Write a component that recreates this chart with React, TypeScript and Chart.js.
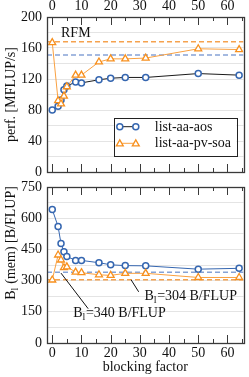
import React, { useEffect, useRef } from "react";
import { Chart, registerables } from "chart.js";

Chart.register(...registerables);

// ---------- data ----------
const blockingFactors = [0, 2, 3, 4, 5, 8, 10, 16, 20, 25, 32, 50, 64];
const perfAos = [80, 85, 93, 106, 111, 116, 115, 119, 121, 122, 122, 127, 125];
const perfPvSoa = [167, 92, 88, 98, 110, 125, 125, 142, 146, 146, 147, 159, 158];
const bAos = [642, 560, 478, 439, 416, 397, 397, 386, 376, 372, 371, 355, 359];
const bPvSoa = [303, 423, 399, 362, 366, 341, 338, 328, 325, 335, 335, 315, 315];
const perfLimitSoa = 168;
const perfLimitAos = 151;
const bLimitAos = 340;
const bLimitSoa = 304;
const xRange = [-1.8, 65.5];
const xTickValues = [0, 10, 20, 30, 40, 50, 60];
const xMinorTickValues = [5, 15, 25, 35, 45, 55, 65];
const perfTickValues = [0, 40, 80, 120, 160, 200];
const perfGridValues = [0, 20, 40, 60, 80, 100, 120, 140, 160, 180, 200];
const bTickValues = [0, 150, 300, 450, 600, 750];
const bGridValues = [0, 75, 150, 225, 300, 375, 450, 525, 600, 675, 750];
const seriesNames = ["list-aa-aos", "list-aa-pv-soa"];
const annotRFM = { x: 3, y: 179, text: "RFM" };
const annot304 = { from: [27, 304], to: [29.6, 246], textAt: [31.6, 222], value: "=304 B/FLUP" };
const annot340 = { from: [3, 336], to: [12.3, 165], textAt: [7.2, 143], value: "=340 B/FLUP" };

// ---------- style ----------
const FONT = "'Liberation Serif', 'Times New Roman', serif";
const BLUE = "#3566b0";
const ORANGE = "#f7901e";
const ORANGE_LINE = "#f9a040";
const BLUE_DASH = "#86a3d6";
const ORANGE_DASH = "#f5a24e";
const GRID = "#e4e4e4";
const FRAME = "#3a3a3a";

const pts = (ys: number[]) => blockingFactors.map((x, i) => ({ x, y: ys[i] }));
const hline = (y: number) => [{ x: xRange[0], y }, { x: xRange[1], y }];

function drawFrame(chart: any) {
  const { ctx, chartArea: a, scales } = chart;
  const x = scales.x;
  ctx.save();
  ctx.strokeStyle = FRAME;
  ctx.lineWidth = 1;
  const tick = (v: number, len: number) => {
    const px = Math.round(x.getPixelForValue(v)) + 0.5;
    ctx.beginPath();
    ctx.moveTo(px, a.top);
    ctx.lineTo(px, a.top + len);
    ctx.moveTo(px, a.bottom);
    ctx.lineTo(px, a.bottom - len);
    ctx.stroke();
  };
  xTickValues.forEach((v) => tick(v, 8));
  xMinorTickValues.forEach((v) => tick(v, 4));
  ctx.lineWidth = 1.3;
  ctx.strokeRect(Math.round(a.left) + 0.5, Math.round(a.top) + 0.5, Math.round(a.right - a.left), Math.round(a.bottom - a.top));
  ctx.restore();
}

function drawTriangle(ctx: CanvasRenderingContext2D, x: number, y: number, r: number) {
  ctx.beginPath();
  ctx.moveTo(x, y - r);
  ctx.lineTo(x + 0.866 * r, y + 0.5 * r);
  ctx.lineTo(x - 0.866 * r, y + 0.5 * r);
  ctx.closePath();
}

// draws text with "B" + subscript "l" + rest, left aligned at (x, y) middle baseline
function drawSubText(ctx: CanvasRenderingContext2D, rest: string, x: number, y: number) {
  ctx.textBaseline = "middle";
  ctx.textAlign = "left";
  ctx.font = `14px ${FONT}`;
  ctx.fillText("B", x, y);
  let w = ctx.measureText("B").width;
  ctx.font = `10px ${FONT}`;
  ctx.fillText("l", x + w, y + 4);
  w += ctx.measureText("l").width + 0.5;
  ctx.font = `14px ${FONT}`;
  ctx.fillText(rest, x + w, y);
  w += ctx.measureText(rest).width;
  return w;
}

function measureSubText(ctx: CanvasRenderingContext2D, rest: string) {
  ctx.font = `14px ${FONT}`;
  let w = ctx.measureText("B").width + ctx.measureText(rest).width;
  ctx.font = `10px ${FONT}`;
  w += ctx.measureText("l").width + 0.5;
  return w;
}

const topPlugin = {
  id: "topDeco",
  afterDraw(chart: any) {
    drawFrame(chart);
    const { ctx, chartArea: a, scales } = chart;
    ctx.save();
    ctx.fillStyle = "#111";
    ctx.font = `14px ${FONT}`;
    ctx.textBaseline = "middle";
    ctx.textAlign = "left";
    ctx.fillText(annotRFM.text, scales.x.getPixelForValue(annotRFM.x), scales.y.getPixelForValue(annotRFM.y));
    // legend box
    const bx = a.right - 129.7, by = a.bottom - 53.7, bw = 122.7, bh = 37.7;
    ctx.fillStyle = "#fff";
    ctx.fillRect(bx, by, bw, bh);
    ctx.strokeStyle = "#222";
    ctx.lineWidth = 1;
    ctx.strokeRect(Math.round(bx) + 0.5, Math.round(by) + 0.5, Math.round(bw), Math.round(bh));
    const rows = [by + 8.4, by + 25];
    // row 1
    ctx.strokeStyle = "#1a1a1a";
    ctx.beginPath();
    ctx.moveTo(bx + 6, rows[0]);
    ctx.lineTo(bx + 22, rows[0]);
    ctx.stroke();
    ctx.strokeStyle = BLUE;
    ctx.fillStyle = "#fff";
    ctx.lineWidth = 1.5;
    [bx + 6, bx + 22].forEach((px) => {
      ctx.beginPath();
      ctx.arc(px, rows[0], 3, 0, Math.PI * 2);
      ctx.fill();
      ctx.stroke();
    });
    // row 2
    ctx.strokeStyle = ORANGE_LINE;
    ctx.lineWidth = 1;
    ctx.beginPath();
    ctx.moveTo(bx + 6, rows[1]);
    ctx.lineTo(bx + 22, rows[1]);
    ctx.stroke();
    ctx.strokeStyle = ORANGE;
    ctx.lineWidth = 1.3;
    [bx + 6, bx + 22].forEach((px) => {
      drawTriangle(ctx, px, rows[1] + 0.5, 4);
      ctx.fillStyle = "#fff";
      ctx.fill();
      ctx.stroke();
    });
    ctx.fillStyle = "#111";
    ctx.font = `14px ${FONT}`;
    ctx.textBaseline = "middle";
    ctx.fillText(seriesNames[0], bx + 41, rows[0] + 0.5);
    ctx.fillText(seriesNames[1], bx + 41, rows[1] + 0.5);
    ctx.restore();
  },
};

const bottomPlugin = {
  id: "bottomDeco",
  afterDraw(chart: any) {
    drawFrame(chart);
    const { ctx, chartArea: a, scales } = chart;
    const X = (v: number) => scales.x.getPixelForValue(v);
    const Y = (v: number) => scales.y.getPixelForValue(v);
    ctx.save();
    ctx.strokeStyle = "#111";
    ctx.lineWidth = 1;
    [annot304, annot340].forEach((an) => {
      ctx.beginPath();
      ctx.moveTo(X(an.from[0]), Y(an.from[1]));
      ctx.lineTo(X(an.to[0]), Y(an.to[1]));
      ctx.stroke();
      ctx.fillStyle = "#111";
      drawSubText(ctx, an.value, X(an.textAt[0]), Y(an.textAt[1]));
    });
    // y title with subscript
    const rest = " (mem) [B/FLUP]";
    const w = measureSubText(ctx, rest);
    ctx.translate(11.7, a.top + 56);
    ctx.rotate(-Math.PI / 2);
    ctx.fillStyle = "#111";
    drawSubText(ctx, rest, -w / 2, 0);
    ctx.restore();
  },
};

function baseX(position: "top" | "bottom", height: number, withTitle: boolean) {
  return {
    type: "linear",
    position,
    min: xRange[0],
    max: xRange[1],
    grid: { display: false, drawTicks: false },
    border: { display: false },
    afterBuildTicks: (s: any) => {
      s.ticks = xTickValues.map((v) => ({ value: v }));
    },
    afterFit: (s: any) => {
      s.height = height;
      s.paddingLeft = 0;
      s.paddingRight = 0;
    },
    ticks: {
      font: { family: FONT, size: 14 },
      color: "#111",
      padding: 2,
      maxRotation: 0,
      autoSkip: false,
    },
    title: {
      display: withTitle,
      text: "blocking factor",
      font: { family: FONT, size: 14 },
      color: "#111",
      padding: { top: 0, bottom: 1 },
    },
  };
}

function baseY(min: number, max: number, grid: number[], labels: number[], title: string | null) {
  return {
    type: "linear",
    min,
    max,
    grid: { color: GRID, drawTicks: false, lineWidth: 1 },
    border: { display: false },
    afterBuildTicks: (s: any) => {
      s.ticks = grid.map((v) => ({ value: v }));
    },
    afterFit: (s: any) => {
      s.width = 47;
      s.paddingTop = 0;
      s.paddingBottom = 0;
    },
    ticks: {
      font: { family: FONT, size: 14 },
      color: "#111",
      padding: 5,
      autoSkip: false,
      callback: (v: any) => (labels.includes(v) ? String(v) : ""),
    },
    title: {
      display: !!title,
      text: title || "",
      font: { family: FONT, size: 14 },
      color: "#111",
      padding: { top: 3, bottom: 0 },
    },
  };
}

export default function App() {
  const topRef = useRef<HTMLCanvasElement | null>(null);
  const botRef = useRef<HTMLCanvasElement | null>(null);

  useEffect(() => {
    const common = {
      responsive: false,
      animation: false,
      devicePixelRatio: 1,
      events: [],
      plugins: { legend: { display: false }, tooltip: { enabled: false } },
    };
    const top = new Chart(topRef.current!, {
      type: "line",
      data: {
        datasets: [
          { data: hline(perfLimitSoa), borderColor: ORANGE_DASH, borderWidth: 1.5, borderDash: [5, 3], pointRadius: 0, order: 4 },
          { data: hline(perfLimitAos), borderColor: BLUE_DASH, borderWidth: 1.5, borderDash: [5, 3], pointRadius: 0, order: 5 },
          {
            label: seriesNames[0], data: pts(perfAos), borderColor: "#1a1a1a", borderWidth: 1,
            pointStyle: "circle", pointRadius: 3, pointBorderColor: BLUE, pointBackgroundColor: "#fff", pointBorderWidth: 1.5, order: 2,
          },
          {
            label: seriesNames[1], data: pts(perfPvSoa), borderColor: ORANGE_LINE, borderWidth: 1,
            pointStyle: "triangle", pointRadius: 4, pointBorderColor: ORANGE, pointBackgroundColor: "#fff", pointBorderWidth: 1.3, order: 1,
          },
        ],
      },
      options: {
        ...common,
        layout: { padding: { left: 0, right: 2, top: 0, bottom: 8 } },
        scales: {
          x: baseX("top", 17, false),
          y: baseY(0, 200, perfGridValues, perfTickValues, "perf. [MFLUP/s]"),
        },
      } as any,
      plugins: [topPlugin],
    } as any);

    const bot = new Chart(botRef.current!, {
      type: "line",
      data: {
        datasets: [
          { data: hline(bLimitAos), borderColor: BLUE_DASH, borderWidth: 1.5, borderDash: [5, 3], pointRadius: 0, order: 4 },
          { data: hline(bLimitSoa), borderColor: ORANGE_DASH, borderWidth: 1.5, borderDash: [5, 3], pointRadius: 0, order: 5 },
          {
            label: seriesNames[0], data: pts(bAos), borderColor: BLUE, borderWidth: 1,
            pointStyle: "circle", pointRadius: 3, pointBorderColor: BLUE, pointBackgroundColor: "#fff", pointBorderWidth: 1.5, order: 2,
          },
          {
            label: seriesNames[1], data: pts(bPvSoa), borderColor: ORANGE_LINE, borderWidth: 1,
            pointStyle: "triangle", pointRadius: 4, pointBorderColor: ORANGE, pointBackgroundColor: "#fff", pointBorderWidth: 1.3, order: 1,
          },
        ],
      },
      options: {
        ...common,
        layout: { padding: { left: 0, right: 2, top: 7, bottom: 0 } },
        scales: {
          x: baseX("bottom", 34, true),
          y: baseY(0, 750, bGridValues, bTickValues, null),
        },
      } as any,
      plugins: [bottomPlugin],
    } as any);

    return () => {
      top.destroy();
      bot.destroy();
    };
  }, []);

  return (
    <div style={{ position: "absolute", left: 0, top: 0, width: 249, height: 377, background: "#fff" }}>
      <canvas ref={topRef} width={249} height={180} style={{ position: "absolute", left: 0, top: 0, display: "block" }} />
      <canvas ref={botRef} width={249} height={197} style={{ position: "absolute", left: 0, top: 180, display: "block" }} />
    </div>
  );
}
